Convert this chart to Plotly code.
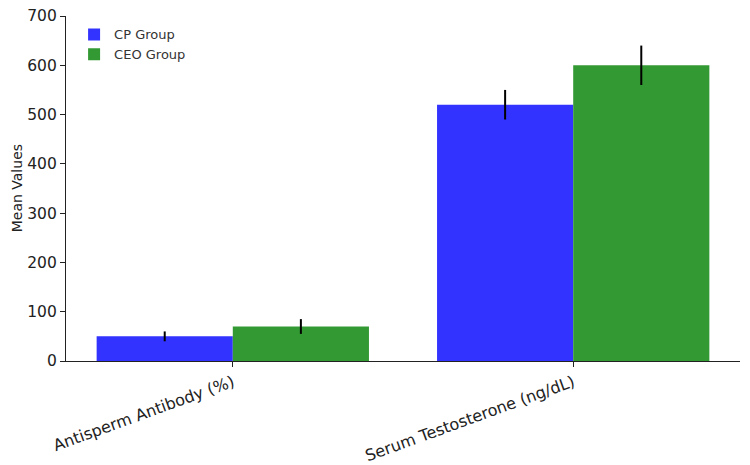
import plotly.graph_objects as go

categories = ["Antisperm Antibody (%)", "Serum Testosterone (ng/dL)"]
cp_values = [50, 520]
cp_err = [10, 30]
ceo_values = [70, 600]
ceo_err = [15, 40]
y_ticks = [0, 100, 200, 300, 400, 500, 600, 700]

x = list(range(len(categories)))

fig = go.Figure()
fig.add_trace(go.Bar(
    x=x, y=cp_values, name="CP Group",
    marker=dict(color="#3333ff", line=dict(width=0)),
    error_y=dict(type="data", array=cp_err, color="black", thickness=2, width=0),
))
fig.add_trace(go.Bar(
    x=x, y=ceo_values, name="CEO Group",
    marker=dict(color="#339933", line=dict(width=0)),
    error_y=dict(type="data", array=ceo_err, color="black", thickness=2, width=0),
))

font = "DejaVu Sans"
fig.update_layout(
    width=750, height=465,
    margin=dict(l=66, r=10, t=16, b=104),
    barmode="group", bargap=0.2, bargroupgap=0,
    plot_bgcolor="white", paper_bgcolor="white",
    font=dict(family=font, size=13, color="#222"),
    showlegend=True,
    legend=dict(x=0.012, y=0.99, xanchor="left", yanchor="top",
                bgcolor="rgba(255,255,255,0)", font=dict(size=13, color="#333"),
                itemwidth=30, tracegroupgap=2),
    xaxis=dict(
        range=[-0.49, 1.49], tickmode="array", tickvals=x, ticktext=categories,
        tickangle=-20, showline=True, linecolor="#222", linewidth=1.2,
        ticks="outside", ticklen=5, tickcolor="#222", showgrid=False, zeroline=False,
        tickfont=dict(size=16), automargin=False,
    ),
    yaxis=dict(
        range=[0, 700], tickmode="array", tickvals=y_ticks,
        showline=True, linecolor="#222", linewidth=1.2,
        ticks="outside", ticklen=5, tickcolor="#222", showgrid=False, zeroline=False,
        tickfont=dict(size=15.5), automargin=False,
    ),
    annotations=[dict(
        text="Mean Values", xref="paper", yref="paper", x=-0.073, y=0.5,
        xanchor="center", yanchor="middle", textangle=-90, showarrow=False,
        font=dict(size=14, color="#222"),
    )],
)

fig.write_html("out.html")
